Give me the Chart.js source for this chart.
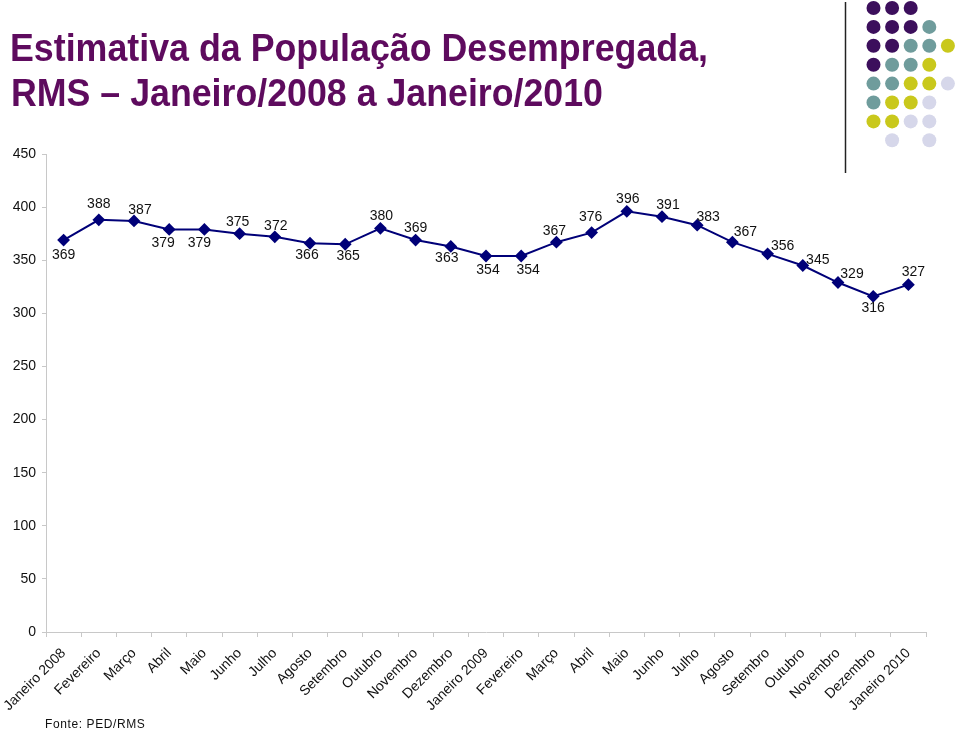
<!DOCTYPE html>
<html lang="pt-BR">
<head>
<meta charset="utf-8">
<title>Estimativa da População Desempregada, RMS</title>
<script src="https://cdn.jsdelivr.net/npm/chart.js@4/dist/chart.umd.min.js"></script>
<style>
    html, body { margin: 0; padding: 0; background: #fff; }
    #wrap { position: relative; width: 960px; height: 730px; overflow: hidden; font-family: "Liberation Sans", Arial, sans-serif; }
    #chart { position: absolute; left: 0; top: 0; }
    .title { position: absolute; left: 10px; margin: 0; color: #5e0b5e; font-weight: bold;
        font-size: 38px; line-height: 44px; transform-origin: 0 0; white-space: nowrap; }
    #t1 { top: 26px; }
    #t2 { top: 71px; left: 11px; }
    #source { position: absolute; left: 45px; top: 717px; font-size: 12px; letter-spacing: 0.6px; color: #111; }
    #deco { position: absolute; left: 0; top: 0; }
</style>
</head>
<body>
<div id="wrap">
    <canvas id="chart" width="960" height="730"></canvas>
    <div class="title" id="t1" data-w="698">Estimativa da População Desempregada,</div>
    <div class="title" id="t2" data-w="592">RMS – Janeiro/2008 a Janeiro/2010</div>
    <svg id="deco" width="960" height="180"></svg>
    <div id="source">Fonte: PED/RMS</div>
</div>
<script>
const MONTHS = [
    'Janeiro 2008', 'Fevereiro', 'Março', 'Abril', 'Maio', 'Junho', 'Julho', 'Agosto',
    'Setembro', 'Outubro', 'Novembro', 'Dezembro', 'Janeiro 2009', 'Fevereiro', 'Março',
    'Abril', 'Maio', 'Junho', 'Julho', 'Agosto', 'Setembro', 'Outubro', 'Novembro',
    'Dezembro', 'Janeiro 2010',
];
const UNEMPLOYED = [
    369, 388, 387, 379, 379, 375, 372, 366, 365, 380, 369, 363, 354,
    354, 367, 376, 396, 391, 383, 367, 356, 345, 329, 316, 327,
];
const Y_MIN = 0;
const Y_MAX = 450;
const Y_STEP = 50;

// where each value label sits relative to its marker (dx, dy in px)
const LABEL_OFFSETS = [
    [0, 15], [0, -16], [6, -11], [-6, 14], [-5, 14], [-2, -12], [1, -11], [-3, 12],
    [3, 12], [1, -12], [0, -12], [-4, 12], [2, 14], [7, 14], [-2, -11], [-1, -15],
    [1, -12], [6, -12], [11, -8], [13, -10], [15, -8], [15, -5], [14, -8], [0, 12], [5, -13],
];

// decorative dot grid, top right: one string per row
const DOT_ROWS = ['PPP', 'PPPT', 'PPTTY', 'PTTY', 'TTYYL', 'TYYL', 'YYLL', '.L.L'];
const DOT_COLORS = { P: '#3c0f5c', T: '#6f9c9c', Y: '#c9c81c', L: '#d6d7ea' };

function drawDeco() {
    const svg = document.querySelector('#deco');
    let html = '<line x1="845.5" y1="2" x2="845.5" y2="173" stroke="#222" stroke-width="1.5"/>';
    DOT_ROWS.forEach((row, r) => {
        [...row].forEach((c, i) => {
            if (!DOT_COLORS[c]) return;
            const cx = 873.5 + i * 18.6;
            const cy = 8 + r * 18.9;
            html += `<circle cx="${cx}" cy="${cy}" r="7" fill="${DOT_COLORS[c]}"/>`;
        });
    });
    svg.innerHTML = html;
}

// squeeze the title lines to the narrow look of the original
function fitTitles() {
    document.querySelectorAll('.title').forEach(el => {
        const w = el.getBoundingClientRect().width;
        const target = Number(el.dataset.w);
        if (w > 0) el.style.transform = `scaleX(${target / w})`;
    });
}

const valueLabels = {
    id: 'valueLabels',
    afterDatasetsDraw(chart) {
        const { ctx } = chart;
        const meta = chart.getDatasetMeta(0);
        ctx.save();
        ctx.font = '14px "Liberation Sans", Arial, sans-serif';
        ctx.fillStyle = '#111';
        ctx.textAlign = 'center';
        ctx.textBaseline = 'middle';
        meta.data.forEach((pt, i) => {
            const [dx, dy] = LABEL_OFFSETS[i] || [0, -12];
            ctx.fillText(String(UNEMPLOYED[i]), pt.x + dx, pt.y + dy);
        });
        ctx.restore();
    },
};

const tickFont = { family: '"Liberation Sans", Arial, sans-serif', size: 14 };

new Chart(document.querySelector('#chart'), {
    type: 'line',
    data: {
        labels: MONTHS,
        datasets: [{
            data: UNEMPLOYED,
            borderColor: '#000078',
            backgroundColor: '#000078',
            borderWidth: 2,
            pointStyle: 'rectRot',
            pointRadius: 5,
            pointHoverRadius: 5,
            tension: 0,
        }],
    },
    options: {
        responsive: false,
        animation: false,
        layout: { padding: { top: 154, right: 34, left: 0, bottom: 0 } },
        plugins: { legend: { display: false }, tooltip: { enabled: false } },
        scales: {
            x: {
                offset: true,
                grid: { offset: true, drawOnChartArea: false, drawTicks: true, tickLength: 5, color: '#c8c8c8' },
                border: { color: '#c8c8c8' },
                ticks: { color: '#111', font: tickFont, maxRotation: 45, minRotation: 45, autoSkip: false, padding: 8 },
                afterFit: s => { s.height = 98; s.paddingLeft = 0; s.paddingRight = 0; },
            },
            y: {
                min: Y_MIN,
                max: Y_MAX,
                ticks: { stepSize: Y_STEP, color: '#111', font: tickFont, padding: 6 },
                grid: { drawOnChartArea: false, drawTicks: true, tickLength: 4, color: '#c8c8c8' },
                border: { color: '#c8c8c8' },
                afterFit: s => { s.width = 46; },
            },
        },
    },
    plugins: [valueLabels],
});

drawDeco();
fitTitles();
</script>
</body>
</html>
